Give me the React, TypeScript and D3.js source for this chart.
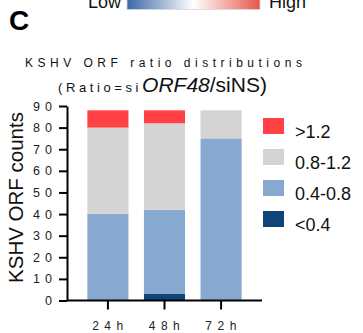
import React, { useEffect, useRef } from "react";
import * as d3 from "d3";

const width = 363;
const height = 333;

const categories = ["24h", "48h", "72h"];
const lt04 = [0, 3, 0];
const r0408 = [40, 39, 75];
const r0812 = [40, 40, 13];
const gt12 = [8, 6, 0];
const yTicks = [0, 10, 20, 30, 40, 50, 60, 70, 80, 90];

const keys = ["lt04", "r0408", "r0812", "gt12"];
const legendKeys = ["gt12", "r0812", "r0408", "lt04"];
const legendLabels = { gt12: ">1.2", r0812: "0.8-1.2", r0408: "0.4-0.8", lt04: "<0.4" };
const colors = { lt04: "#0e4478", r0408: "#87a8d0", r0812: "#d4d4d4", gt12: "#ff4144" };

const font = "Liberation Sans, Arial, sans-serif";

export default function App() {
  const xAxisRef = useRef(null);
  const yAxisRef = useRef(null);

  const rows = categories.map((c, i) => ({
    cat: c,
    lt04: lt04[i],
    r0408: r0408[i],
    r0812: r0812[i],
    gt12: gt12[i],
  }));
  const series = d3.stack().keys(keys)(rows);

  const x = d3
    .scaleBand()
    .domain(categories)
    .range([67, 262])
    .paddingInner(0.274)
    .paddingOuter(0.36);
  const y = d3.scaleLinear().domain([0, 90]).range([300.5, 106]);

  useEffect(() => {
    const xAxis = d3
      .axisBottom(x)
      .tickSizeOuter(0)
      .tickSizeInner(9)
      .tickPadding(12);
    const gx = d3.select(xAxisRef.current).call(xAxis);
    gx.select(".domain").attr("stroke-width", 2).attr("d", "M67,0H262");
    gx.selectAll("line").attr("stroke-width", 2);
    gx.selectAll("text")
      .attr("font-size", 12)
      .attr("font-family", font)
      .attr("letter-spacing", 5.5)
      .attr("dx", 2.5)
      .attr("fill", "#222");

    const yAxis = d3
      .axisLeft(y)
      .tickValues(yTicks)
      .tickSizeOuter(0)
      .tickSizeInner(8)
      .tickPadding(2)
      .tickFormat(d3.format("d"));
    const gy = d3.select(yAxisRef.current).call(yAxis);
    gy.select(".domain").attr("stroke-width", 2);
    gy.selectAll("line").attr("stroke-width", 2);
    gy.selectAll("text")
      .attr("font-size", 12.5)
      .attr("font-family", font)
      .attr("letter-spacing", 5)
      .attr("fill", "#222");
  });

  return (
    <svg
      width={width}
      height={height}
      style={{ position: "absolute", left: 0, top: 0, background: "#fff" }}
      fontFamily={font}
    >
      <defs>
        <linearGradient id="lowhigh" x1="0" x2="1" y1="0" y2="0">
          <stop offset="0" stopColor="#3b67a5" />
          <stop offset="0.5" stopColor="#ffffff" />
          <stop offset="1" stopColor="#e6574a" />
        </linearGradient>
      </defs>

      <text x={88} y={8} fontSize={18} fill="#111">Low</text>
      <rect x={127} y={-10} width={133} height={19.5} fill="url(#lowhigh)" stroke="#d8d8dc" strokeWidth={0.8} />
      <text x={269} y={8} fontSize={18} fill="#111">High</text>

      <text x={9} y={30} fontSize={28} fontWeight="bold" fill="#000">C</text>

      <text x={25} y={67} fontSize={12} letterSpacing={4.5} fill="#111">
        KSHV ORF ratio distributions
      </text>
      <text x={58} y={92} fill="#111">
        <tspan fontSize={13} letterSpacing={3.6}>(Ratio=si</tspan>
        <tspan fontSize={21} fontStyle="italic">ORF48</tspan>
        <tspan fontSize={21}>/siNS)</tspan>
      </text>

      <text
        transform="translate(23,197.5) rotate(-90)"
        textAnchor="middle"
        fontSize={20.5}
        fill="#111"
      >
        KSHV ORF counts
      </text>

      {series.map((s) => (
        <g key={s.key} fill={colors[s.key]}>
          {s.map((d, i) =>
            d[1] - d[0] > 0 ? (
              <rect
                key={i}
                x={x(categories[i])}
                y={y(d[1])}
                width={x.bandwidth()}
                height={y(d[0]) - y(d[1])}
              />
            ) : null
          )}
        </g>
      ))}

      <g ref={xAxisRef} transform={`translate(0, ${y(0)})`} />
      <g ref={yAxisRef} transform="translate(67, 0)" />

      {legendKeys.map((k, i) => (
        <g key={k} transform={`translate(263, ${118 + i * 31})`}>
          <rect width={21} height={16} fill={colors[k]} />
          <text x={32} y={20} fontSize={18} fill="#111">{legendLabels[k]}</text>
        </g>
      ))}
    </svg>
  );
}
